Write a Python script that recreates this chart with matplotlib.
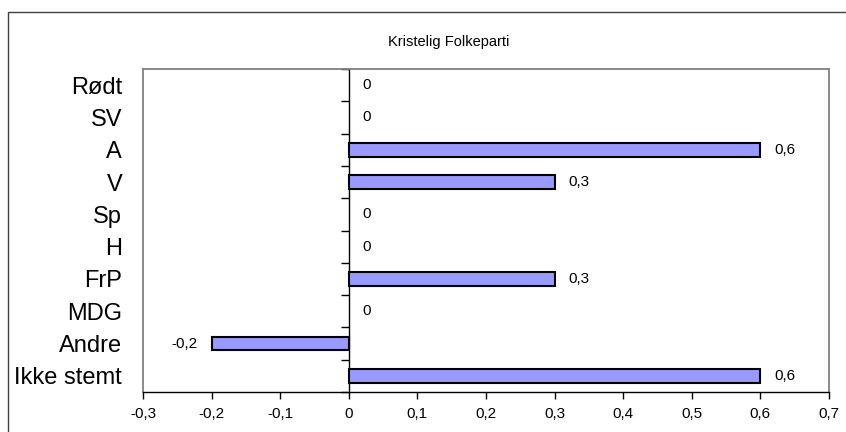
import matplotlib.pyplot as plt
import numpy as np
from matplotlib.patches import Rectangle

plt.rcParams['font.family'] = ['Liberation Sans', 'DejaVu Sans']

title = 'Kristelig Folkeparti'
parties = ['Rødt', 'SV', 'A', 'V', 'Sp', 'H', 'FrP', 'MDG', 'Andre', 'Ikke stemt']
values = [0, 0, 0.6, 0.3, 0, 0, 0.3, 0, -0.2, 0.6]
xticks = [-0.3, -0.2, -0.1, 0, 0.1, 0.2, 0.3, 0.4, 0.5, 0.6, 0.7]


def fmt(v):
    # norsk desimalkomma
    s = ('%.1f' % v).replace('.', ',')
    if s in ('0,0', '-0,0'):
        s = '0'
    return s


fig = plt.figure(figsize=(8.46, 4.32), dpi=100)
ax = fig.add_axes([143/846, 1 - 392/432, (829-143)/846, (392-69)/432])

# ytre ramme
fig.patches.append(Rectangle((8/846, -0.5), 2, 1.5 - 12/432, transform=fig.transFigure,
                             fill=False, edgecolor='#404040', linewidth=1.0))

y = np.arange(len(parties))
lw = [1.5 if v != 0 else 0 for v in values]
ax.barh(y, values, height=0.43, color='#9999FF', edgecolor='black', linewidth=lw, zorder=3)

for yi, v in zip(y, values):
    if v < 0:
        ax.annotate(fmt(v), (v, yi), xytext=(-10.5, 0), textcoords='offset points',
                    ha='right', va='center', fontsize=11)
    else:
        ax.annotate(fmt(v), (v, yi), xytext=(10, 0), textcoords='offset points',
                    ha='left', va='center', fontsize=11)

ax.set_xlim(-0.3, 0.7)
ax.set_ylim(len(parties) - 0.5, -0.5)
ax.set_xticks(xticks)
ax.set_xticklabels([fmt(t) for t in xticks], fontsize=11)
ax.tick_params(axis='x', direction='out', length=5, width=1, color='black', pad=6)

ax.set_yticks(y)
ax.set_yticklabels(parties, fontsize=17)
ax.tick_params(axis='y', length=0, pad=15)

for s in ['left', 'top', 'right']:
    ax.spines[s].set_color('#808080')
    ax.spines[s].set_linewidth(1.3)
ax.spines['bottom'].set_color('black')
ax.spines['bottom'].set_linewidth(1.0)

# verdiakse ved 0 med kategorigrenser
loc = (0 - ax.get_xlim()[0]) / (ax.get_xlim()[1] - ax.get_xlim()[0])
sec = ax.secondary_yaxis(loc)
sec.set_yticks(np.arange(len(parties) + 1) - 0.5)
sec.set_yticklabels([])
sec.tick_params(axis='y', direction='out', length=6, width=1, color='black')
sec.spines['left'].set_color('black')
sec.spines['left'].set_linewidth(1.0)

fig.text((386 + 512) / 2 / 846, 1 - 42/432, title, ha='center', va='center', fontsize=10.5)

fig.savefig('out.png', dpi=100)
